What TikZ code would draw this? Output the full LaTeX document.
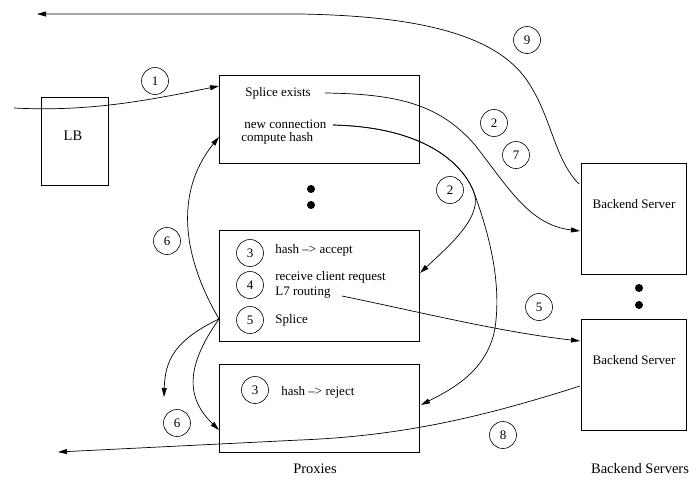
\documentclass[tikz,border=0pt]{standalone}
\usepackage{fontspec}
\setmainfont{Liberation Serif}
\usetikzlibrary{arrows.meta}
\begin{document}
\begin{tikzpicture}[x=1pt,y=-1pt,
  line width=0.7pt,
  box/.style={draw, rectangle, inner sep=0pt},
  num/.style={draw, circle, minimum size=27pt, inner sep=0pt, line width=0.6pt, font=\fontsize{13}{15}\selectfont},
  txt/.style={anchor=west, inner sep=0pt, font=\fontsize{13}{15}\selectfont},
  ctxt/.style={inner sep=0pt, font=\fontsize{13}{15}\selectfont},
  big/.style={inner sep=0pt, font=\fontsize{14.5}{17}\selectfont},
  arr/.style={-{Triangle[length=9pt,width=5pt]}},
  bigdot/.style={fill, circle, minimum size=8pt, inner sep=0pt}]
\useasboundingbox (0,0) rectangle (698,479);

% boxes
\node[box, minimum width=67pt, minimum height=88pt] (lb) at (74.5,141) {};
\node[big] (lbtext) at (73,136) {LB};
\node[box, minimum width=200pt, minimum height=88pt] (p1) at (319,119) {};
\node[box, minimum width=200pt, minimum height=111pt] (p2) at (319,285.5) {};
\node[box, minimum width=200pt, minimum height=88pt] (p3) at (319,408) {};
\node[box, minimum width=105pt, minimum height=111pt] (b1) at (633.5,218.5) {};
\node[box, minimum width=105pt, minimum height=111pt] (b2) at (633.5,374.5) {};
\node[ctxt] (b1text) at (634,204) {Backend Server};
\node[ctxt] (b2text) at (634,360) {Backend Server};

% texts in proxies
\node[txt] (t1) at (245,93) {Splice exists};
\node[txt] (t2) at (244,124) {new connection};
\node[txt] (t3) at (241,138) {compute hash};
\node[txt] (t4) at (275,250) {hash \textendash> accept};
\node[txt] (t5) at (275,277) {receive client request};
\node[txt] (t6) at (275,293) {L7 routing};
\node[txt] (t7) at (275,320) {Splice};
\node[txt] (t8) at (281,392) {hash \textendash> reject};

% dots
\node[bigdot] (d1) at (311,189) {};
\node[bigdot] (d2) at (311,205) {};
\node[bigdot] (d3) at (639,288) {};
\node[bigdot] (d4) at (639,305) {};

% labels
\node[big] (lp) at (315,469) {Proxies};
\node[big] (lbs) at (640,469) {Backend Servers};

% circled numbers
\node[num] (n1) at (155,81) {1};
\node[num] (n9) at (527,40) {9};
\node[num] (n2a) at (494,123) {2};
\node[num] (n7) at (516,155) {7};
\node[num] (n2b) at (450,190) {2};
\node[num] (n6a) at (167,241) {6};
\node[num] (n3a) at (250,253) {3};
\node[num] (n4) at (250,285) {4};
\node[num] (n5a) at (250,320) {5};
\node[num] (n3b) at (255,390) {3};
\node[num] (n6b) at (177,423) {6};
\node[num] (n5b) at (539,307) {5};
\node[num] (n8) at (503,435) {8};

% connector end points
\coordinate (in1) at (14,108);
\coordinate (p1a) at (219,86);
\coordinate (p1b) at (219,137);
\coordinate (b1top) at (579,184);
\coordinate (out9) at (37,14);
\coordinate (se) at (325,93);
\coordinate (b1in) at (580,231);
\coordinate (nc) at (333,125);
\coordinate (bend) at (473,190);
\coordinate (p2in) at (420,273);
\coordinate (p3in) at (421,405);
\coordinate (l7) at (342,296);
\coordinate (b2in) at (580,341);
\coordinate (p2out) at (219,319);
\coordinate (free6) at (164,397);
\coordinate (p3l) at (219,430);
\coordinate (b2out) at (580,386);
\coordinate (out8) at (58,452);

% connectors
\draw[arr] (in1) .. controls (90,112) and (150,100) .. (p1a);
\draw[arr] (b1top) .. controls (555,160) and (552,120) .. (530,85)
   .. controls (500,35) and (420,16) .. (300,14) -- (out9);
\draw[arr] (se) .. controls (400,94) and (440,105) .. (475,145)
   .. controls (510,190) and (530,225) .. (b1in);
\draw[arr] (nc) .. controls (420,127) and (460,160) .. (bend)
   .. controls (485,215) and (450,245) .. (p2in);
\draw[arr] (nc) .. controls (420,127) and (460,160) .. (bend)
   .. controls (490,235) and (500,280) .. (496,320)
   .. controls (492,370) and (450,390) .. (p3in);
\draw[arr] (l7) .. controls (420,312) and (500,332) .. (b2in);
\draw[arr] (p2out) .. controls (176,245) and (180,185) .. (p1b);
\draw[arr] (p2out) .. controls (175,340) and (165,360) .. (free6);
\draw[arr] (p2out) .. controls (183,370) and (188,400) .. (p3l);
\draw[arr] (b2out) .. controls (480,418) and (400,436) .. (300,440) -- (out8);
\end{tikzpicture}
\end{document}
